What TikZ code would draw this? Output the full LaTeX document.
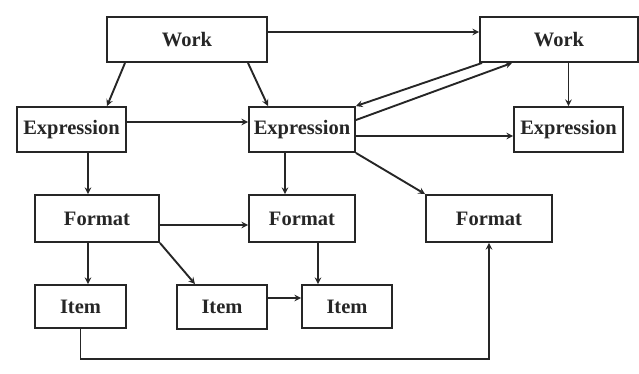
\documentclass[tikz,border=0pt]{standalone}
\usepackage{fontspec}
\setmainfont{Liberation Serif}
\usetikzlibrary{
  arrows,
  positioning
}
\tikzset{
  ->,
  >=stealth,
  wide/.style = {minimum width=#1},
}

\begin{document}
\begin{tikzpicture}[x=1pt, y=-1pt, line width=1.9pt, color=black!85]
\tikzstyle{every node}+=[draw, rectangle, inner sep=0pt, minimum height=45pt,
                         font=\bfseries\fontsize{20.5}{24}\selectfont]
\useasboundingbox (0,0) rectangle (639,373);
% works
\node (w1) at (187,39.5) [wide=160pt] {Work};
\node (w2) at (559,39.5) [wide=158pt] {Work};
% expressions
\node (e1) at (71.5,129.5) [wide=109pt] {Expression};
\node (e2) at (302,129.5) [wide=106pt] {Expression};
\node (e3) at (568.5,129.5) [wide=109pt] {Expression};
% formats
\node (f1) at (97,218.5) [wide=124pt, minimum height=47pt] {Format};
\node (f2) at (302,218.5) [wide=106pt, minimum height=47pt] {Format};
\node (f3) at (489,218.5) [wide=126pt, minimum height=47pt] {Format};
% items
\node (i1) at (80.5,306.5) [wide=91pt, minimum height=43pt] {Item};
\node (i2) at (222,307) [wide=90pt, minimum height=44pt] {Item};
\node (i3) at (347,306.5) [wide=90pt, minimum height=43pt] {Item};

\draw ([yshift=7.5pt]w1.east) -- ([yshift=7.5pt]w2.west);
\draw ([xshift=-62pt]w1.south) -- ([xshift=35.5pt]e1.north);
\draw ([xshift=61pt]w1.south) -- ([xshift=-34pt]e2.north);
\draw ([yshift=7.5pt]e1.east) -- ([yshift=7.5pt]e2.west);
\draw ([xshift=3pt]w2.south west) -- (e2.north east);
\draw ([yshift=9.5pt]e2.east) -- ([xshift=-47pt]w2.south);
\draw ([yshift=-6.5pt]e2.east) -- ([yshift=-6.5pt]e3.west);
\draw (w2.south -| e3.north) -- (e3.north);
\draw (e2.south east) -- (f3.north west);
\draw ([xshift=16.5pt]e1.south) -- ([xshift=16.5pt]e1.south |- f1.north);
\draw ([xshift=-17pt]e2.south) -- ([xshift=-17pt]f2.north);
\draw ([yshift=-6.5pt]f1.east) -- ([yshift=-6.5pt]f2.west);
\draw ([xshift=-9pt]f1.south) -- ([xshift=-9pt]f1.south |- i1.north);
\draw (f1.south east) -- ([xshift=-27pt]i2.north);
\draw ([xshift=16pt]f2.south) -- ([xshift=16pt]f2.south |- i3.north);
\draw ([yshift=9pt]i2.east) -- ([yshift=9pt]i2.east -| i3.west);
\draw (i1.south) -- ++(0,30) -| (f3.south);
\end{tikzpicture}
\end{document}
